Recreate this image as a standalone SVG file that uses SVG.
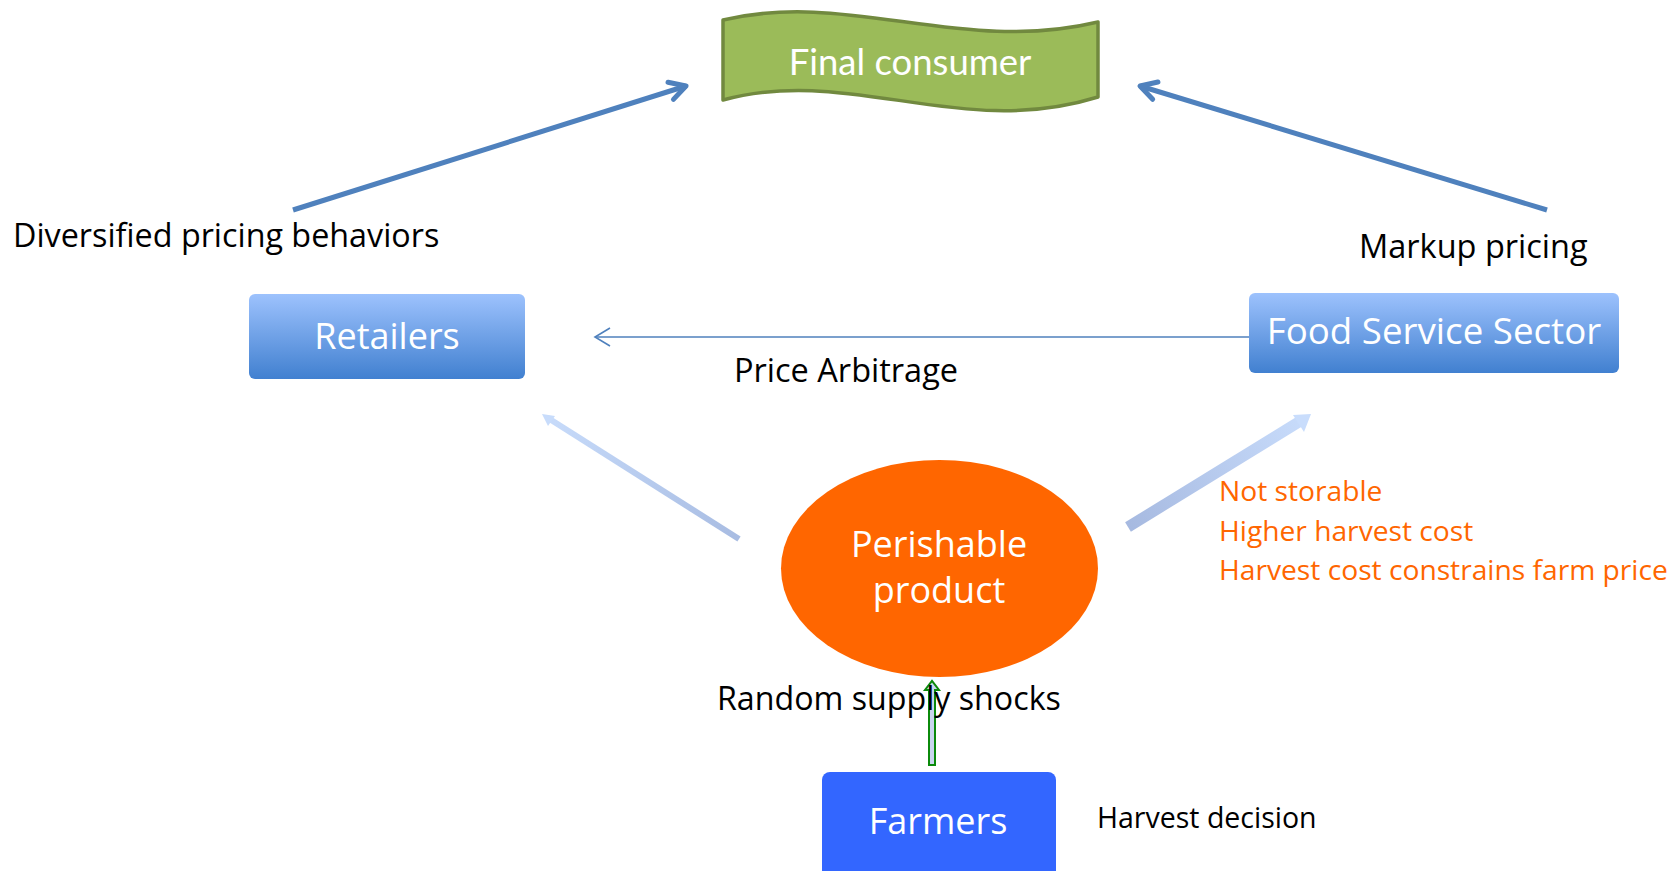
<svg xmlns="http://www.w3.org/2000/svg" width="1674" height="871" viewBox="0 0 1674 871">
  <defs>
    <linearGradient id="boxGrad" x1="0" y1="0" x2="0" y2="1">
      <stop offset="0" stop-color="#9DC2FD"/>
      <stop offset="1" stop-color="#4180D0"/>
    </linearGradient>
    <linearGradient id="fadeL" gradientUnits="userSpaceOnUse" x1="738" y1="540" x2="542" y2="414">
      <stop offset="0" stop-color="#A8BCE2"/>
      <stop offset="1" stop-color="#C8DCFB"/>
    </linearGradient>
    <linearGradient id="fadeR" gradientUnits="userSpaceOnUse" x1="1126" y1="528" x2="1311" y2="414">
      <stop offset="0" stop-color="#A6B9E0"/>
      <stop offset="1" stop-color="#C9DDFC"/>
    </linearGradient>
    <marker id="chevBig" markerUnits="userSpaceOnUse" viewBox="0 0 24 24" markerWidth="24" markerHeight="24" refX="21" refY="12" orient="auto">
      <path d="M5,3 L21,12 L5,21" fill="none" stroke="#4F81BD" stroke-width="5" stroke-linecap="round" stroke-linejoin="round"/>
    </marker>
    <marker id="chevThin" markerUnits="userSpaceOnUse" viewBox="0 0 20 20" markerWidth="20" markerHeight="20" refX="18" refY="10" orient="auto">
      <path d="M3,1 L18,10 L3,19" fill="none" stroke="#4F81BD" stroke-width="1.6"/>
    </marker>
  </defs>
  <style>
    .lbl { font-family: "Open Sans", Lato, sans-serif; fill: #000000; }
    .org { font-family: "Open Sans", Lato, sans-serif; fill: #FF6600; font-size: 28.2px; }
    .wht { font-family: "Open Sans", Lato, sans-serif; fill: #FFFFFF; text-anchor: middle; }
    .bluebox { fill: url(#boxGrad); }
    .conn { stroke: #4F81BD; fill: none; }
  </style>

  <rect width="1674" height="871" fill="#FFFFFF"/>

  <g id="connectors">
    <line class="conn" x1="293" y1="210" x2="686" y2="86" stroke-width="5" marker-end="url(#chevBig)"/>
    <line class="conn" x1="1547" y1="210" x2="1140" y2="86" stroke-width="5" marker-end="url(#chevBig)"/>
    <line class="conn" x1="1249" y1="337" x2="595" y2="337" stroke-width="1.6" marker-end="url(#chevThin)"/>
    <g id="fade-left">
      <line x1="739" y1="539" x2="548" y2="418" stroke="url(#fadeL)" stroke-width="6"/>
      <polygon points="542,414 555,416 548,426" fill="#C8DCFB"/>
    </g>
    <g id="fade-right">
      <line x1="1128" y1="527" x2="1302" y2="420" stroke="url(#fadeR)" stroke-width="11"/>
      <polygon points="1311,414 1293,415 1304,432" fill="#C9DDFC"/>
    </g>
    <polygon id="green-arrow" points="929,765 935,765 935,690 939,690 932,681 925,690 929,690" fill="#C9D5EE" stroke="#0B8A0B" stroke-width="2" stroke-linejoin="miter"/>
  </g>

  <g id="final-consumer">
    <path d="M723,20 C850,-10 960,55 1098,22 L1098,97 C960,140 850,65 723,100 Z" fill="#9BBB59" stroke="#71893F" stroke-width="3.5" stroke-linejoin="round"/>
    <text x="910" y="75" font-family="Lato, 'Open Sans', sans-serif" font-size="36.5" fill="#FFFFFF" text-anchor="middle">Final consumer</text>
  </g>

  <g id="retailers">
    <rect class="bluebox" x="249" y="294" width="276" height="85" rx="6"/>
    <text class="wht" x="387" y="349" style="font-size:36px">Retailers</text>
  </g>

  <g id="food-service">
    <rect class="bluebox" x="1249" y="293" width="370" height="80" rx="6"/>
    <text class="wht" x="1434" y="344" style="font-size:36.7px">Food Service Sector</text>
  </g>

  <g id="perishable">
    <ellipse cx="939.5" cy="568.5" rx="158.5" ry="108.5" fill="#FF6600"/>
    <text class="wht" x="939" y="557" style="font-size:36px">Perishable</text>
    <text class="wht" x="939" y="603" style="font-size:36px">product</text>
  </g>

  <g id="farmers">
    <rect x="822" y="772" width="234" height="110" rx="8" fill="#3366FF"/>
    <text class="wht" x="938" y="834" style="font-size:36px">Farmers</text>
  </g>

  <g id="labels">
    <text class="lbl" x="13" y="247" style="font-size:32.3px">Diversified pricing behaviors</text>
    <text class="lbl" x="1359" y="258" style="font-size:32.5px">Markup pricing</text>
    <text class="lbl" x="734" y="382" style="font-size:32.5px">Price Arbitrage</text>
    <text class="lbl" x="717" y="710" style="font-size:32.2px">Random supply shocks</text>
    <text class="lbl" x="1097" y="828" style="font-size:28.5px">Harvest decision</text>
    <text class="org" x="1219" y="501">Not storable</text>
    <text class="org" x="1219" y="541">Higher harvest cost</text>
    <text class="org" x="1219" y="580">Harvest cost constrains farm price</text>
  </g>
</svg>
